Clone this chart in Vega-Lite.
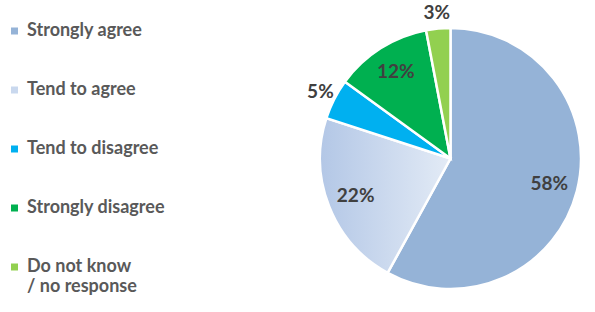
{
  "$schema": "https://vega.github.io/schema/vega-lite/v6.json",
  "width": 261,
  "height": 261,
  "autosize": "none",
  "padding": {"left": 320, "top": 28, "right": 14, "bottom": 23},
  "background": "white",
  "config": {"view": {"stroke": null}},
  "data": {
    "values": [
      {"cat": "Strongly agree", "v": 58, "lbl": "58%", "o": 1},
      {"cat": "Tend to agree", "v": 22, "lbl": "22%", "o": 2},
      {"cat": "Tend to disagree", "v": 5, "lbl": "5%", "o": 3},
      {"cat": "Strongly disagree", "v": 12, "lbl": "12%", "o": 4},
      {"cat": "Do not know / no response", "v": 3, "lbl": "3%", "o": 5}
    ]
  },
  "encoding": {
    "theta": {"field": "v", "type": "quantitative", "stack": true},
    "order": {"field": "o", "type": "quantitative"}
  },
  "layer": [
    {
      "mark": {"type": "arc", "outerRadius": 130.5, "stroke": "white", "strokeWidth": 2.5},
      "encoding": {
        "fill": {
          "condition": {
            "test": "datum.cat === 'Tend to agree'",
            "value": {"gradient": "linear", "x1": 0, "y1": 0, "x2": 1, "y2": 0,
              "stops": [{"offset": 0, "color": "#B3C7E6"}, {"offset": 1, "color": "#E3EBF6"}]}
          },
          "field": "cat",
          "type": "nominal",
          "scale": {
            "domain": ["Strongly agree", "Tend to agree", "Tend to disagree", "Strongly disagree", "Do not know / no response"],
            "range": ["#95B3D7", "#C9D8EE", "#00B0F0", "#00B050", "#92D050"]
          },
          "legend": {
            "orient": "none",
            "legendX": -314.5,
            "legendY": -6,
            "title": null,
            "symbolType": "square",
            "symbolSize": 49,
            "symbolStrokeWidth": 0,
            "labelFont": "Lato",
            "labelFontSize": 18,
            "labelFontWeight": "bold",
            "labelColor": "#595959",
            "labelOffset": 3.5,
            "rowPadding": 41,
            "labelLimit": 300,
            "labelExpr": "datum.label === 'Do not know / no response' ? ['Do not know', '/ no response'] : datum.label"
          }
        }
      }
    },
    {
      "mark": {"type": "text", "radius": 102, "font": "Lato", "fontSize": 19, "fontWeight": "bold", "color": "#404040"},
      "encoding": {
        "text": {"condition": {"test": "datum.v >= 10", "field": "lbl"}, "value": ""}
      }
    },
    {
      "mark": {"type": "text", "radius": 146, "font": "Lato", "fontSize": 19, "fontWeight": "bold", "color": "#404040"},
      "encoding": {
        "text": {"condition": {"test": "datum.v < 10", "field": "lbl"}, "value": ""}
      }
    }
  ]
}
